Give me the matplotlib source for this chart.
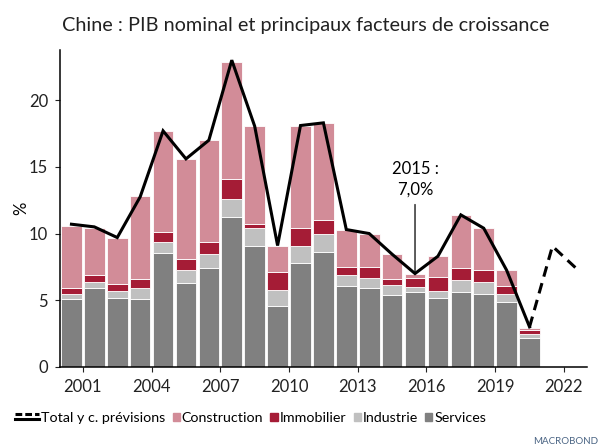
import numpy as np
import matplotlib as mpl
mpl.use("Agg")
import matplotlib.pyplot as plt
from matplotlib.lines import Line2D
from matplotlib.patches import Patch
from matplotlib.legend_handler import HandlerBase

mpl.rcParams.update({
    "font.family": ["Lato", "DejaVu Sans"], "font.size": 11.5,
    "axes.spines.top": False, "axes.spines.right": False,
    "axes.linewidth": 1.1, "xtick.major.size": 3.5, "ytick.major.size": 3.5,
    "xtick.labelsize": 12, "ytick.labelsize": 12,
})
C_CONS, C_IMMO, C_IND, C_SERV = "#d28c98", "#a51c36", "#c0c0c0", "#808080"

years = np.arange(2000, 2021)
services = [5.1, 5.95, 5.2, 5.1, 8.55, 6.3, 7.4, 11.25, 9.1, 4.6, 7.8, 8.6, 6.1, 5.95, 5.4, 5.6, 5.2, 5.6, 5.5, 4.9, 2.2]
industrie = [0.35, 0.45, 0.5, 0.8, 0.85, 1.0, 1.05, 1.35, 1.3, 1.2, 1.3, 1.35, 0.8, 0.75, 0.75, 0.4, 0.5, 0.9, 0.9, 0.6, 0.25]
immobilier = [0.5, 0.5, 0.5, 0.7, 0.7, 0.8, 0.95, 1.5, 0.3, 1.3, 1.3, 1.05, 0.6, 0.8, 0.45, 0.7, 1.05, 0.9, 0.9, 0.6, 0.35]
construction = [4.65, 3.55, 3.5, 6.2, 7.6, 7.5, 7.6, 8.8, 7.35, 2.0, 7.7, 7.3, 2.8, 2.5, 1.85, 0.25, 1.55, 4.0, 3.1, 1.15, 0.15]
total = [10.7, 10.5, 9.7, 12.75, 17.7, 15.6, 17.0, 23.0, 18.05, 9.1, 18.1, 18.3, 10.3, 10.0, 8.45, 7.0, 8.3, 11.4, 10.4, 7.25, 3.0]
fc_years = [2020, 2021, 2022]
fc_total = [3.0, 9.05, 7.45]
xticks = [2001, 2004, 2007, 2010, 2013, 2016, 2019, 2022]


class TwoLines(HandlerBase):
    # solid + dashed pair, drawn wider than the (square-sized) handle box
    def create_artists(self, legend, orig, xd, yd, w, h, fs, trans):
        x0, x1 = -xd - 2.3 * w, w - xd
        ya, yb = h * 0.8 - yd, h * 0.2 - yd
        l1 = Line2D([x0, x1], [ya, ya], color="black", lw=2.2, ls=(0, (2.2, 1.0)))
        l2 = Line2D([x0, x1], [yb, yb], color="black", lw=2.2)
        for l in (l1, l2):
            l.set_transform(trans)
        return [l1, l2]


fig = plt.figure(figsize=(6, 4.48), dpi=100)
ax = fig.add_axes([0.1, 0.181, 0.878, 0.707])

x = years + 0.5
bottom = np.zeros(len(years))
for vals, col in [(services, C_SERV), (industrie, C_IND), (immobilier, C_IMMO), (construction, C_CONS)]:
    ax.bar(x, vals, width=0.9, bottom=bottom, color=col, edgecolor="white", linewidth=0.6)
    bottom += np.array(vals)

ax.plot(x, total, color="black", lw=2.2, solid_joinstyle="miter", zorder=5)
ax.plot(np.array(fc_years) + 0.5, fc_total, color="black", lw=2.2, ls=(0, (3.5, 2.2)), zorder=5)

i15 = list(years).index(2015)
ax.annotate("2015 :\n7,0%", xy=(2015.5, total[i15]), xytext=(2015.5, 12.7),
            ha="center", va="bottom", fontsize=12, linespacing=1.35,
            arrowprops=dict(arrowstyle="-", lw=0.9, color="black", shrinkA=3, shrinkB=0))

ax.set_xlim(2000, 2023)
ax.set_ylim(0, 23.75)
ax.set_xticks(xticks)
ax.set_yticks([0, 5, 10, 15, 20])
ax.set_ylabel("%", fontsize=12, labelpad=0)
ax.tick_params(colors="#222222", pad=5)

fig.text(0.103, 0.931, "Chine : PIB nominal et principaux facteurs de croissance",
         fontsize=14.3, va="baseline", ha="left", color="#222222")

handles = [Line2D([], []), Patch(color=C_CONS), Patch(color=C_IMMO), Patch(color=C_IND), Patch(color=C_SERV)]
labels = ["Total y c. prévisions", "Construction", "Immobilier", "Industrie", "Services"]
fig.legend(handles, labels, loc="center left", bbox_to_anchor=(0.053, 0.067), ncol=5, frameon=False,
           handler_map={Line2D: TwoLines()}, handlelength=0.5, handleheight=0.5,
           handletextpad=0.15, columnspacing=0.5, fontsize=10.3, borderpad=0, borderaxespad=0)

fig.text(0.997, 0.005, "MACROBOND", fontsize=7, color="#4b6584", ha="right", va="bottom")

fig.savefig("out.png", dpi=100)
